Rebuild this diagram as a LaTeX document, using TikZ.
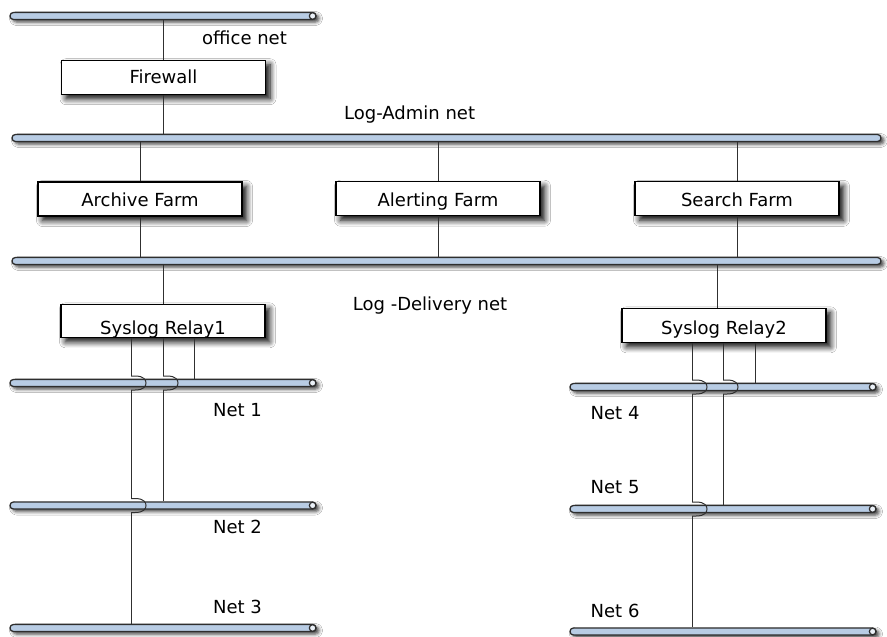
\documentclass[tikz,border=0pt]{standalone}
\usepackage{fontspec}
\setmainfont{DejaVu Sans}
\usetikzlibrary{shadows.blur}
\definecolor{busfill}{HTML}{B8CCE4}
\definecolor{busline}{HTML}{2E2E2E}
\definecolor{wirecol}{HTML}{303030}
\tikzset{
  netbus/.style={draw=busline, line width=1.3pt, fill=busfill,
    rounded corners=3.4pt, minimum height=7pt, inner sep=0pt,
    blur shadow={shadow xshift=3pt, shadow yshift=-2.5pt,
      shadow blur radius=3.5pt, shadow opacity=75}},
  busend/.style={draw=busline, line width=1.2pt, fill=busfill!30},
  hostbox/.style={draw=black, line width=1.2pt, fill=white,
    minimum width=204pt, minimum height=34pt, inner sep=0pt,
    text depth=0pt, font=\fontsize{18}{21}\selectfont,
    blur shadow={shadow xshift=4.5pt, shadow yshift=-4.5pt,
      shadow blur radius=6pt, shadow blur steps=8, shadow opacity=100}},
  netlabel/.style={inner sep=0pt, anchor=base west,
    font=\fontsize{18}{21}\selectfont},
  wire/.style={draw=wirecol, line width=1pt},
  hop/.pic={\draw[wire] (0,-7) -- (4,-7) .. controls (13,-7) and (15,-3) .. (15,0)
      .. controls (15,3) and (13,7) .. (4,7) -- (0,7);}
}
\begin{document}
\begin{tikzpicture}[x=1pt,y=-1pt]
  \path[use as bounding box, fill=white] (0,0) rectangle (887,637);

  % network buses
  \node[netbus, minimum width=306pt] (office)   at (163,16)    {};
  \node[netbus, minimum width=869pt] (admin)    at (446.5,138) {};
  \node[netbus, minimum width=869pt] (delivery) at (446.5,261) {};
  \node[netbus, minimum width=306pt] (net1) at (163,383)   {};
  \node[netbus, minimum width=306pt] (net2) at (163,505.5) {};
  \node[netbus, minimum width=306pt] (net3) at (163,628)   {};
  \node[netbus, minimum width=306pt] (net4) at (723,387)   {};
  \node[netbus, minimum width=306pt] (net5) at (723,509)   {};
  \node[netbus, minimum width=306pt] (net6) at (723,631.5) {};
  \foreach \b in {office,net1,net2,net3,net4,net5,net6}
    \draw[busend] ([xshift=-4pt]\b.east) circle (3.3pt);

  % hosts (text height sets where each baseline sits in its box)
  \node[hostbox, text height=12.2pt] (firewall) at (163.5,77.2) {Firewall};
  \node[hostbox, text height=15.4pt] (archive)  at (140,199)    {Archive Farm};
  \node[hostbox, text height=16pt]   (alerting) at (438,198.7)  {Alerting Farm};
  \node[hostbox, text height=15.8pt] (search)   at (737,198.8)  {Search Farm};
  \node[hostbox, text height=27pt, minimum height=33pt] (relay1) at (163,320.8) {Syslog Relay1};
  \node[hostbox, text height=17.4pt] (relay2)   at (724,325.3)  {Syslog Relay2};

  % labels
  \node[netlabel] (lofc)  at (202,44)    {office net};
  \node[netlabel] (ladm)  at (344,119.3) {Log-Admin net};
  \node[netlabel] (ldel)  at (352.7,310) {Log -Delivery net};
  \node[netlabel] (lnet1) at (213,416.3) {Net 1};
  \node[netlabel] (lnet2) at (213,533.3) {Net 2};
  \node[netlabel] (lnet3) at (213,613.3) {Net 3};
  \node[netlabel] (lnet4) at (590.5,419.3) {Net 4};
  \node[netlabel] (lnet5) at (590.5,493.3) {Net 5};
  \node[netlabel] (lnet6) at (590.5,617.7) {Net 6};

  % upper links
  \draw[wire] (firewall.north) -- (firewall.north |- office.south);
  \draw[wire] (firewall.south) -- (firewall.south |- admin.north);
  \foreach \h in {archive,alerting,search}{
    \draw[wire] (\h.north) -- (\h.north |- admin.south);
    \draw[wire] (\h.south) -- (\h.south |- delivery.north);
  }
  \draw[wire] (relay1.north) -- (relay1.north |- delivery.south);
  \coordinate (r2in) at ([xshift=-7pt]relay2.north);
  \draw[wire] (r2in) -- (r2in |- delivery.south);

  % relay outputs
  \coordinate (r1a) at ([xshift=-32pt]relay1.south);
  \coordinate (r1b) at (relay1.south);
  \coordinate (r1c) at ([xshift=31pt]relay1.south);
  \coordinate (r2a) at ([xshift=-32pt]relay2.south);
  \coordinate (r2b) at ([xshift=-1pt]relay2.south);
  \coordinate (r2c) at ([xshift=31pt]relay2.south);

  % relay 1
  \draw[wire] (r1c) -- (r1c |- net1.north);
  \coordinate (h1b) at (r1b |- net1.center);
  \draw[wire] (r1b) -- ([yshift=7pt]h1b);
  \pic at (h1b) {hop};
  \draw[wire] ([yshift=-7pt]h1b) -- (r1b |- net2.north);
  \coordinate (h1a) at (r1a |- net1.center);
  \coordinate (h2a) at (r1a |- net2.center);
  \draw[wire] (r1a) -- ([yshift=7pt]h1a);
  \pic at (h1a) {hop};
  \draw[wire] ([yshift=-7pt]h1a) -- ([yshift=7pt]h2a);
  \pic at (h2a) {hop};
  \draw[wire] ([yshift=-7pt]h2a) -- (r1a |- net3.north);

  % relay 2
  \draw[wire] (r2c) -- (r2c |- net4.north);
  \coordinate (h4b) at (r2b |- net4.center);
  \draw[wire] (r2b) -- ([yshift=7pt]h4b);
  \pic at (h4b) {hop};
  \draw[wire] ([yshift=-7pt]h4b) -- (r2b |- net5.north);
  \coordinate (h4a) at (r2a |- net4.center);
  \coordinate (h5a) at (r2a |- net5.center);
  \draw[wire] (r2a) -- ([yshift=7pt]h4a);
  \pic at (h4a) {hop};
  \draw[wire] ([yshift=-7pt]h4a) -- ([yshift=7pt]h5a);
  \pic at (h5a) {hop};
  \draw[wire] ([yshift=-7pt]h5a) -- (r2a |- net6.north);
\end{tikzpicture}
\end{document}
